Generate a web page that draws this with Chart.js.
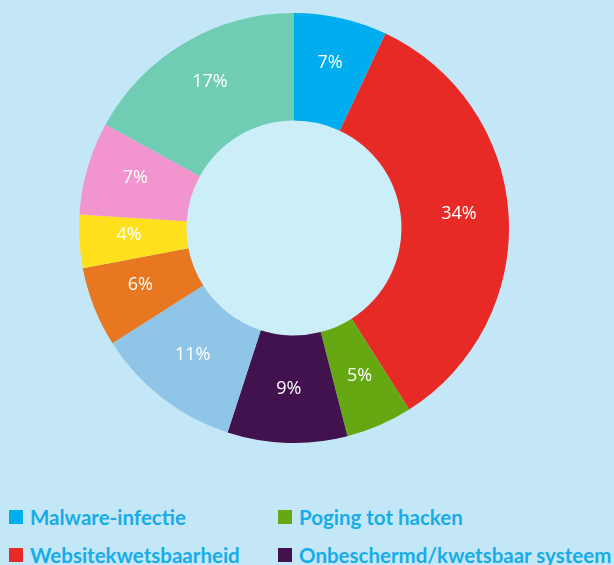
<!DOCTYPE html>
<html>
<head>
<meta charset="utf-8">
<script src="https://cdn.jsdelivr.net/npm/chart.js@4"></script>
<style>
  html, body { margin: 0; padding: 0; }
  body { width: 614px; height: 565px; background: #c3e7f7; position: relative; overflow: hidden; }
  #wrap { position: absolute; left: 79px; top: 13px; width: 430px; height: 430px; }
  #legend { position: absolute; left: 0; top: 0; }
  .item { position: absolute; height: 20px; white-space: nowrap;
          font: bold 20.5px Lato, sans-serif; color: #17ace8; line-height: 20px; }
  .item span.box { position: absolute; left: 0; top: 3px; width: 14px; height: 14px; }
  .item span.txt { position: absolute; left: 21px; top: 0; }
</style>
</head>
<body>
<div id="wrap"><canvas id="donut"></canvas></div>
<div id="legend"></div>
<script>
// Slices, clockwise from the top
const categories = ['Malware-infectie', 'Websitekwetsbaarheid', 'Poging tot hacken',
  'Onbeschermd/kwetsbaar systeem', '', '', '', '', ''];
const shares = [7, 34, 5, 9, 11, 6, 4, 7, 17];
const colors = ['#00aeef', '#e82a26', '#66a811', '#42124f', '#8fc6e7',
  '#e87722', '#ffe01c', '#f295cf', '#70cdb3'];
// legend items that are visible (row by row, two columns)
const legendOrder = [0, 2, 1, 3];

// lighter disc inside the hole
const holeFill = {
  id: 'holeFill',
  beforeDatasetsDraw(chart) {
    const arc = chart.getDatasetMeta(0).data[0];
    const ctx = chart.ctx;
    ctx.save();
    ctx.fillStyle = '#cbeef9';
    ctx.beginPath();
    ctx.arc(arc.x, arc.y, arc.innerRadius, 0, Math.PI * 2);
    ctx.fill();
    ctx.restore();
  }
};

// percentage labels on the slices
const pctLabels = {
  id: 'pctLabels',
  afterDatasetsDraw(chart) {
    const ctx = chart.ctx;
    ctx.save();
    ctx.fillStyle = '#ffffff';
    ctx.font = '18px "Open Sans", sans-serif';
    ctx.textAlign = 'center';
    ctx.textBaseline = 'middle';
    chart.getDatasetMeta(0).data.forEach((arc, i) => {
      const mid = (arc.startAngle + arc.endAngle) / 2;
      const r = (arc.innerRadius + arc.outerRadius) / 2 + 4;
      ctx.fillText(shares[i] + '%', arc.x + r * Math.cos(mid), arc.y - 4 + r * Math.sin(mid));
    });
    ctx.restore();
  }
};

new Chart(document.getElementById('donut'), {
  type: 'doughnut',
  data: {
    labels: categories,
    datasets: [{
      data: shares,
      backgroundColor: colors,
      borderWidth: 0
    }]
  },
  options: {
    responsive: true,
    maintainAspectRatio: false,
    animation: false,
    cutout: '50%',
    plugins: {
      legend: { display: false },
      tooltip: { enabled: false }
    }
  },
  plugins: [holeFill, pctLabels]
});

// legend in two columns
const legend = document.getElementById('legend');
legendOrder.forEach((idx, k) => {
  const el = document.createElement('div');
  el.className = 'item';
  el.style.left = (k % 2 === 0 ? 9 : 278) + 'px';
  el.style.top = (k < 2 ? 507 : 545) + 'px';
  el.innerHTML = '<span class="box" style="background:' + colors[idx] + '"></span>' +
    '<span class="txt">' + categories[idx] + '</span>';
  legend.appendChild(el);
});
</script>
</body>
</html>
